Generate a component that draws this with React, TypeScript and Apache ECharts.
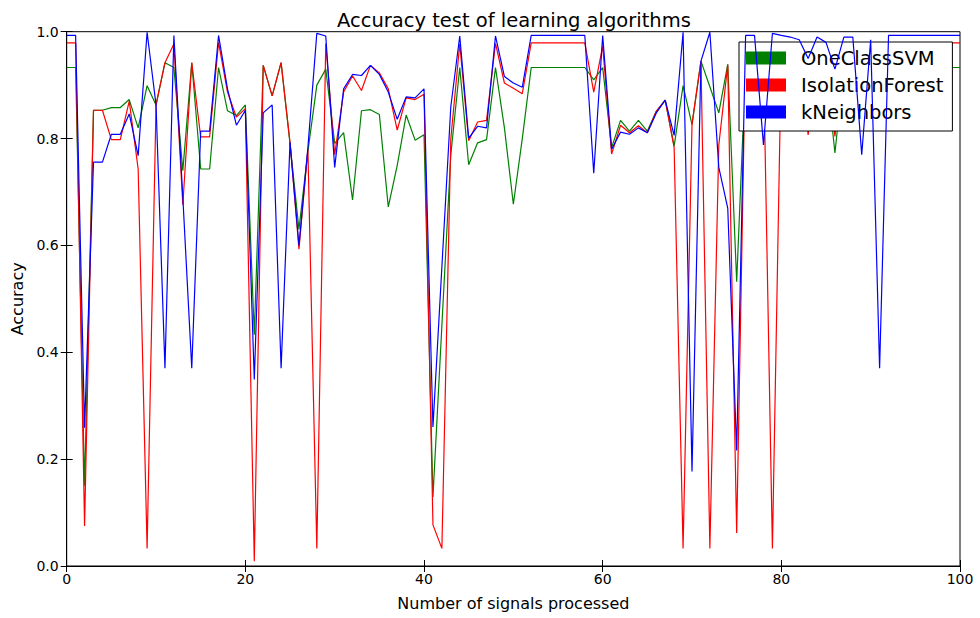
import React, { useEffect, useRef } from "react";
import * as echarts from "echarts";

const TITLE = "Accuracy test of learning algorithms";
const X_NAME = "Number of signals processed";
const Y_NAME = "Accuracy";
const SERIES_NAMES = ["OneClassSVM", "IsolationForest", "kNeighbors"];
const SERIES_COLORS = ["#008000", "#ff0000", "#0000ff"];

// values at x = 0, 1, 2, ..., 100
const oneClassSVM = [
  0.933, 0.933, 0.15, 0.853, 0.853, 0.858, 0.858, 0.873, 0.82, 0.899,
  0.863, 0.942, 0.933, 0.74, 0.942, 0.743, 0.743, 0.933, 0.852, 0.843,
  0.863, 0.433, 0.937, 0.88, 0.942, 0.79, 0.63, 0.776, 0.9, 0.93,
  0.791, 0.811, 0.685, 0.852, 0.854, 0.845, 0.672, 0.75, 0.844, 0.797,
  0.807, 0.129, 0.45, 0.77, 0.933, 0.751, 0.792, 0.798, 0.933, 0.82,
  0.677, 0.8, 0.933, 0.933, 0.933, 0.933, 0.933, 0.933, 0.933, 0.91,
  0.933, 0.783, 0.834, 0.814, 0.834, 0.814, 0.851, 0.872, 0.786, 0.899,
  0.826, 0.945, 0.897, 0.848, 0.939, 0.532, 0.933, 0.933, 0.9, 0.933,
  0.933, 0.933, 0.933, 0.9, 0.933, 0.933, 0.773, 0.933, 0.933, 0.9,
  0.933, 0.933, 0.933, 0.933, 0.933, 0.933, 0.933, 0.933, 0.933, 0.933,
  0.933,
];

const isolationForest = [
  0.979, 0.979, 0.075, 0.853, 0.853, 0.798, 0.798, 0.87, 0.743, 0.033,
  0.863, 0.942, 0.977, 0.676, 0.942, 0.803, 0.803, 0.98, 0.887, 0.84,
  0.856, 0.009, 0.937, 0.88, 0.942, 0.793, 0.593, 0.78, 0.033, 0.978,
  0.77, 0.887, 0.917, 0.89, 0.937, 0.923, 0.893, 0.816, 0.876, 0.873,
  0.883, 0.077, 0.033, 0.8, 0.977, 0.796, 0.831, 0.834, 0.978, 0.904,
  0.894, 0.884, 0.979, 0.979, 0.979, 0.979, 0.979, 0.979, 0.979, 0.887,
  0.973, 0.771, 0.825, 0.811, 0.824, 0.811, 0.851, 0.872, 0.783, 0.033,
  0.827, 0.945, 0.033, 0.788, 0.938, 0.062, 0.979, 0.979, 0.95, 0.033,
  0.96, 0.979, 0.979, 0.807, 0.979, 0.979, 0.804, 0.979, 0.979, 0.95,
  0.979, 0.979, 0.979, 0.979, 0.979, 0.979, 0.979, 0.979, 0.979, 0.979,
  0.979,
];

const kNeighbors = [
  0.993, 0.993, 0.259, 0.756, 0.756, 0.808, 0.808, 0.846, 0.768, 0.999,
  0.863, 0.37, 0.993, 0.69, 0.37, 0.814, 0.814, 0.993, 0.893, 0.825,
  0.853, 0.349, 0.848, 0.863, 0.37, 0.793, 0.6, 0.783, 0.997, 0.992,
  0.746, 0.893, 0.92, 0.918, 0.937, 0.92, 0.887, 0.836, 0.878, 0.876,
  0.893, 0.26, 0.56, 0.86, 0.992, 0.801, 0.823, 0.82, 0.992, 0.916,
  0.904, 0.896, 0.993, 0.993, 0.993, 0.993, 0.993, 0.993, 0.993, 0.735,
  0.993, 0.78, 0.812, 0.808, 0.82, 0.811, 0.848, 0.872, 0.806, 0.999,
  0.177, 0.945, 0.999, 0.746, 0.67, 0.216, 0.993, 0.993, 0.788, 0.997,
  0.993, 0.99, 0.985, 0.95, 0.99, 0.98, 0.93, 0.99, 0.99, 0.77,
  0.985, 0.37, 0.993, 0.993, 0.993, 0.993, 0.993, 0.993, 0.993, 0.993,
  0.993,
];

const SERIES_VALUES = [oneClassSVM, isolationForest, kNeighbors];

const FONT = "DejaVu Sans";

export default function App() {
  const ref = useRef<HTMLDivElement>(null);

  useEffect(() => {
    if (!ref.current) return;
    const chart = echarts.init(ref.current, null, { renderer: "svg" });

    const tickStyle = { show: true, inside: true, length: 6, lineStyle: { color: "#000", width: 1 } };
    const lineStyle = { show: true, lineStyle: { color: "#000", width: 1 } };

    chart.setOption({
      animation: false,
      backgroundColor: "#fff",
      textStyle: { fontFamily: FONT },
      title: {
        text: TITLE,
        left: 332,
        top: 5,
        textStyle: { fontFamily: FONT, fontSize: 19.5, fontWeight: "normal", color: "#000" },
      },
      legend: {
        data: SERIES_NAMES.map((n, i) => ({ name: n, itemStyle: { color: SERIES_COLORS[i] } })),
        orient: "vertical",
        left: 739,
        top: 42,
        icon: "rect",
        itemWidth: 40,
        itemHeight: 13,
        itemGap: 7,
        padding: [6, 9, 9, 7],
        backgroundColor: "#fff",
        borderColor: "#000",
        borderWidth: 1,
        borderRadius: 0,
        textStyle: { fontFamily: FONT, fontSize: 19.5, color: "#000", padding: [0, 0, 0, 10], lineHeight: 20 },
      },
      grid: {
        left: 66.7,
        right: 20,
        top: 31.7,
        bottom: 52,
        show: true,
        borderColor: "#000",
        borderWidth: 1,
        backgroundColor: "transparent",
      },
      xAxis: [
        {
          type: "value",
          min: 0,
          max: 100,
          interval: 20,
          position: "bottom",
          name: X_NAME,
          nameLocation: "middle",
          nameGap: 29,
          nameTextStyle: { fontFamily: FONT, fontSize: 16, color: "#000" },
          axisLine: lineStyle,
          axisTick: tickStyle,
          axisLabel: { fontFamily: FONT, fontSize: 14, color: "#000", margin: 6 },
          splitLine: { show: false },
        },
        {
          type: "value",
          min: 0,
          max: 100,
          interval: 20,
          position: "top",
          axisLine: lineStyle,
          axisTick: tickStyle,
          axisLabel: { show: false },
          splitLine: { show: false },
        },
      ],
      yAxis: [
        {
          type: "value",
          min: 0,
          max: 1,
          interval: 0.2,
          position: "left",
          name: Y_NAME,
          nameLocation: "middle",
          nameGap: 41,
          nameTextStyle: { fontFamily: FONT, fontSize: 16, color: "#000" },
          axisLine: lineStyle,
          axisTick: tickStyle,
          axisLabel: {
            fontFamily: FONT,
            fontSize: 14,
            color: "#000",
            margin: 8,
            formatter: (v: number) => v.toFixed(1),
          },
          splitLine: { show: false },
        },
        {
          type: "value",
          min: 0,
          max: 1,
          interval: 0.2,
          position: "right",
          axisLine: lineStyle,
          axisTick: tickStyle,
          axisLabel: { show: false },
          splitLine: { show: false },
        },
      ],
      series: SERIES_NAMES.map((name, i) => ({
        name,
        type: "line",
        xAxisIndex: 0,
        yAxisIndex: 0,
        data: SERIES_VALUES[i].map((v, x) => [x, v]),
        showSymbol: false,
        symbol: "none",
        lineStyle: { color: SERIES_COLORS[i], width: 1.2 },
        itemStyle: { color: SERIES_COLORS[i] },
        z: 2 + i,
      })),
    });

    return () => chart.dispose();
  }, []);

  return (
    <div
      ref={ref}
      style={{ position: "absolute", left: 0, top: 0, width: 980, height: 618 }}
    />
  );
}
